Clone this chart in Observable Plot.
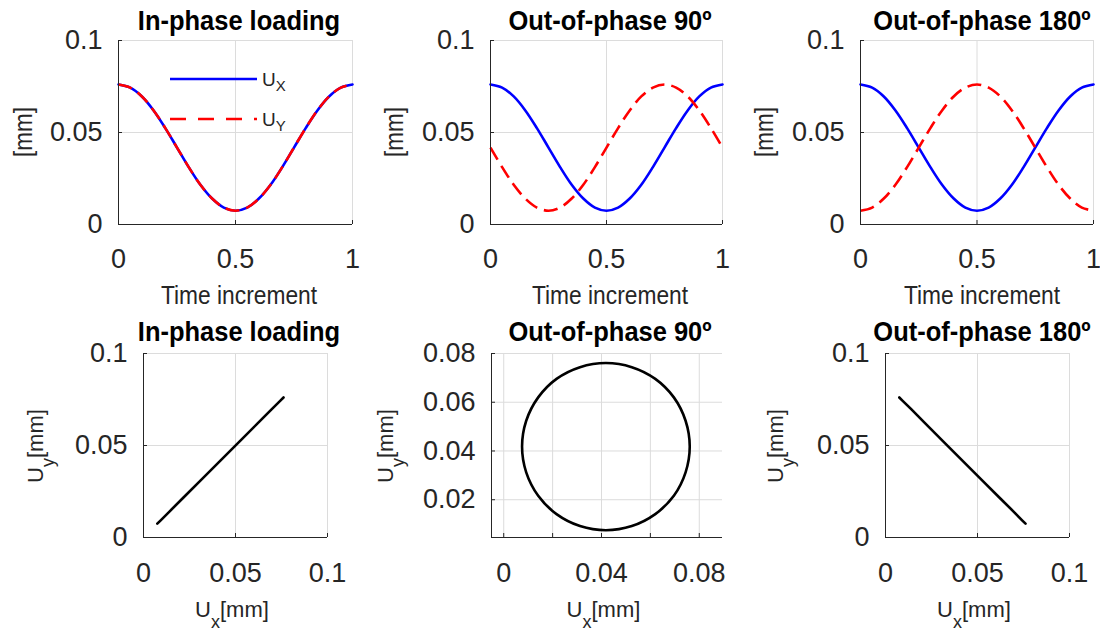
<!DOCTYPE html>
<html><head><meta charset="utf-8">
<script src="https://cdn.jsdelivr.net/npm/d3@7"></script>
<script src="https://cdn.jsdelivr.net/npm/@observablehq/plot@0.6"></script>
<style>
body{margin:0;background:#fff;}
#fig{position:relative;width:1100px;height:633px;overflow:hidden;background:#fff;}
#fig svg{position:absolute;left:0;top:0;}
</style></head><body><div id="fig"></div>
<script>
// ---- data ----
const timeIncrement = [0,0.05,0.1,0.15,0.2,0.25,0.3,0.35,0.4,0.45,0.5,0.55,0.6,0.65,0.7,0.75,0.8,0.85,0.9,0.95,1];
const uxSeries  = [0.0761,0.0744,0.0696,0.0620,0.0524,0.0418,0.0312,0.0216,0.0141,0.0092,0.0075,0.0092,0.0141,0.0216,0.0312,0.0418,0.0524,0.0620,0.0696,0.0744,0.0761];
const uyInPhase = [0.0761,0.0744,0.0696,0.0620,0.0524,0.0418,0.0312,0.0216,0.0141,0.0092,0.0075,0.0092,0.0141,0.0216,0.0312,0.0418,0.0524,0.0620,0.0696,0.0744,0.0761];
const uy90      = [0.0418,0.0312,0.0216,0.0141,0.0092,0.0075,0.0092,0.0141,0.0216,0.0312,0.0418,0.0524,0.0620,0.0696,0.0744,0.0761,0.0744,0.0696,0.0620,0.0524,0.0418];
const uy180     = [0.0075,0.0092,0.0141,0.0216,0.0312,0.0418,0.0524,0.0620,0.0696,0.0744,0.0761,0.0744,0.0696,0.0620,0.0524,0.0418,0.0312,0.0216,0.0141,0.0092,0.0075];
const titles = ["In-phase loading", "Out-of-phase 90º", "Out-of-phase 180º"];
const uySeries = [uyInPhase, uy90, uy180];
const timeTicks = [0, 0.5, 1];
const mmTicks = [0, 0.05, 0.1];
const circleTicksX = [0, 0.02, 0.04, 0.06, 0.08];
const circleLabelsX = [0, 0.04, 0.08];
const circleTicksY = [0.02, 0.04, 0.06, 0.08];
const circleDomainX = [-0.005, 0.0895];
const circleDomainY = [0.0045, 0.08];

// ---- styling / layout ----
const W = 1100, H = 633;
const FONT = "'Liberation Sans', Arial, Helvetica, sans-serif";
const AX = "#262626", GRID = "#dcdcdc", TXT = "#262626";
const BLUE = "#0000ff", RED = "#ff0000";
const DASH = "14,7";
const LEGEND_DASH = "16,12";
const LW = 2.6;
const fmt = d => String(d);
const container = document.getElementById("fig");

function panel(cfg) {
  const [l, r] = cfg.xf, [tp, b] = cfg.yf;
  const fw = r - l, fh = b - tp;
  const svg = Plot.plot({
    width: W, height: H,
    marginLeft: l, marginRight: W - r, marginTop: tp, marginBottom: H - b,
    style: {background: "transparent", color: TXT, fontFamily: FONT},
    x: {domain: cfg.xDomain}, y: {domain: cfg.yDomain},
    marks: [
      Plot.gridX(cfg.xGrid, {stroke: GRID, strokeOpacity: 1, strokeWidth: 1}),
      Plot.gridY(cfg.yGrid, {stroke: GRID, strokeOpacity: 1, strokeWidth: 1}),
      ...cfg.marks,
      Plot.ruleX([cfg.xDomain[0]], {stroke: AX, strokeWidth: 1}),
      Plot.ruleY([cfg.yDomain[0]], {stroke: AX, strokeWidth: 1}),
      Plot.tickX(cfg.xGrid, {x: d => d, stroke: AX, insetTop: fh - 4}),
      Plot.tickY(cfg.yGrid, {y: d => d, stroke: AX, insetRight: fw - 4}),
      Plot.axisX(cfg.xLabels, {tickSize: 0, tickPadding: cfg.padX, fontSize: 27, label: null, tickFormat: fmt}),
      Plot.axisY(cfg.yLabels, {tickSize: 0, tickPadding: 16, fontSize: 27, label: null, tickFormat: fmt})
    ]
  });
  container.appendChild(svg);
  return svg;
}

function label(svg, {x, y, parts, size, weight = "normal", sx = 1, rotate = 0, subSize, subShift, fill = TXT}) {
  const t = d3.select(svg).append("text")
    .attr("transform", `translate(${x},${y}) rotate(${rotate}) scale(${sx},1)`)
    .attr("text-anchor", "middle").attr("font-size", size).attr("font-weight", weight)
    .attr("font-family", FONT).attr("fill", fill);
  let shifted = false;
  parts.forEach(p => {
    const ts = t.append("tspan").text(p.text);
    if (p.sub) { ts.attr("font-size", subSize).attr("dy", subShift); shifted = true; }
    else if (shifted) { ts.attr("dy", -subShift); shifted = false; }
  });
  return t;
}

const topFrames = [[118, 352], [490, 722], [860, 1093]];
const topY = [40, 224];
const botFrames = [[143, 327], [491, 722], [885, 1069]];
const botY = [353, 537];
const topTitleX = [239, 610, 982];
const botTitleX = [239, 610, 982];
const mmLabelX = [32, 403, 773];
const uyLabelX = [43, 393, 783];

// ---- top row: displacement vs time ----
for (let k = 0; k < 3; k++) {
  const rows = timeIncrement.map((t, i) => ({t, ux: uxSeries[i], uy: uySeries[k][i]}));
  const svg = panel({
    xf: topFrames[k], yf: topY,
    xDomain: [0, 1], yDomain: [0, 0.1],
    xGrid: timeTicks, yGrid: mmTicks, xLabels: timeTicks, yLabels: mmTicks, padX: 24,
    marks: [
      Plot.line(rows, {x: "t", y: "ux", stroke: BLUE, strokeWidth: LW, curve: "catmull-rom"}),
      Plot.line(rows, {x: "t", y: "uy", stroke: RED, strokeWidth: LW, curve: "catmull-rom", strokeDasharray: DASH, strokeLinecap: "butt"})
    ]
  });
  label(svg, {x: topTitleX[k], y: 30, parts: [{text: titles[k]}], size: 28, weight: "bold", sx: 0.91, fill: "#000"});
  label(svg, {x: topTitleX[k], y: 304, parts: [{text: "Time increment"}], size: 26.5, sx: 0.86});
  label(svg, {x: mmLabelX[k], y: 132, rotate: -90, parts: [{text: "[mm]"}], size: 25.5, sx: 0.88});
  if (k === 0) {
    const g = d3.select(svg).append("g");
    g.append("line").attr("x1", 170).attr("x2", 257).attr("y1", 79).attr("y2", 79)
      .attr("stroke", BLUE).attr("stroke-width", LW);
    g.append("line").attr("x1", 170).attr("x2", 257).attr("y1", 119).attr("y2", 119)
      .attr("stroke", RED).attr("stroke-width", LW).attr("stroke-dasharray", LEGEND_DASH);
    const lt1 = label(svg, {x: 0, y: 0, parts: [{text: "U"}, {text: "X", sub: true}], size: 19, subSize: 15, subShift: 5});
    lt1.attr("transform", "translate(262,86)").attr("text-anchor", "start");
    const lt2 = label(svg, {x: 0, y: 0, parts: [{text: "U"}, {text: "Y", sub: true}], size: 19, subSize: 15, subShift: 5});
    lt2.attr("transform", "translate(262,126)").attr("text-anchor", "start");
  }
}

// ---- bottom row: Uy vs Ux ----
const botData = [
  timeIncrement.map((t, i) => ({ux: uxSeries[i], uy: uyInPhase[i]})),
  timeIncrement.slice(0, 20).map((t, i) => ({ux: uxSeries[i], uy: uy90[i]})),
  timeIncrement.map((t, i) => ({ux: uxSeries[i], uy: uy180[i]}))
];
for (let k = 0; k < 3; k++) {
  const circ = k === 1;
  const svg = panel({
    xf: botFrames[k], yf: botY,
    xDomain: circ ? circleDomainX : [0, 0.1], yDomain: circ ? circleDomainY : [0, 0.1],
    xGrid: circ ? circleTicksX : mmTicks, yGrid: circ ? circleTicksY : mmTicks,
    xLabels: circ ? circleLabelsX : mmTicks, yLabels: circ ? circleTicksY : mmTicks, padX: 25,
    marks: [
      Plot.line(botData[k], {x: "ux", y: "uy", stroke: "#000", strokeWidth: LW, curve: circ ? "catmull-rom-closed" : "linear"})
    ]
  });
  label(svg, {x: botTitleX[k], y: 341, parts: [{text: titles[k]}], size: 28, weight: "bold", sx: 0.91, fill: "#000"});
  const cx = (botFrames[k][0] + botFrames[k][1]) / 2 - 3;
  label(svg, {x: cx, y: 617, parts: [{text: "U"}, {text: "x", sub: true}, {text: "[mm]"}], size: 22, subSize: 18, subShift: 11});
  label(svg, {x: uyLabelX[k], y: 446, rotate: -90, parts: [{text: "U"}, {text: "y", sub: true}, {text: "[mm]"}], size: 22, subSize: 18, subShift: 11});
}
</script></body></html>
